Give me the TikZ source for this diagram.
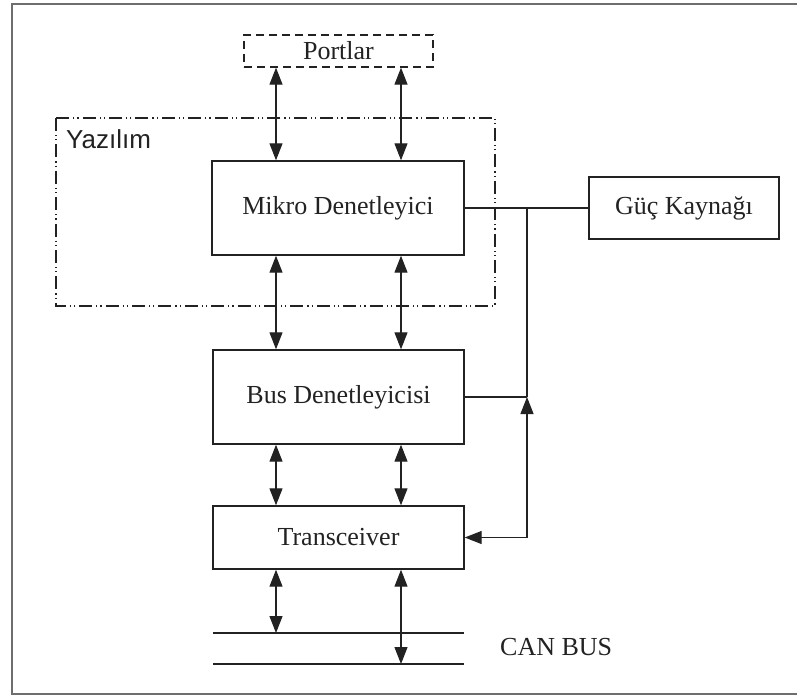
\documentclass[tikz,border=0pt]{standalone}
\usepackage{fontspec}
\setmainfont{Liberation Serif}
\newfontfamily\labelsans{Liberation Sans}
\usetikzlibrary{arrows.meta}
\definecolor{ink}{HTML}{222222}
\definecolor{framegray}{HTML}{6E6E6E}
\tikzset{
  blockbox/.style={draw=ink, line width=1.4pt, rectangle, inner sep=0pt,
    font=\fontsize{26}{30}\selectfont, text=ink},
  portbox/.style={blockbox, dash pattern=on 8pt off 5pt, line width=1.3pt},
  groupbox/.style={draw=ink, line width=1.3pt,
    dash pattern=on 13pt off 4pt on 1.2pt off 3pt on 1.2pt off 4pt},
  wire/.style={draw=ink, line width=1.2pt},
  tip/.style={Triangle[length=17pt,width=13pt]},
  biarrow/.style={wire, {Triangle[length=17pt,width=13pt]}-{Triangle[length=17pt,width=13pt]}},
  busline/.style={draw=ink, line width=2pt},
  plaintext/.style={inner sep=0pt, font=\fontsize{26}{30}\selectfont, text=ink}
}
\begin{document}
\begin{tikzpicture}[x=1pt,y=-1pt]
\useasboundingbox (0,0) rectangle (797,697);
% outer frame (open on the right)
\draw[framegray, line width=2.5pt] (800,4) -- (12,4) -- (12,694) -- (800,694);

% software group
\draw[groupbox] (56,118) rectangle (495,306);
\node[plaintext, anchor=base west, font=\labelsans\fontsize{26}{30}\selectfont] (yazilim) at (66,148) {Yazılım};

% blocks
\node[portbox, minimum width=189pt, minimum height=32pt] (portlar) at (338.5,51) {Portlar};
\node[blockbox, minimum width=252pt, minimum height=94pt] (mikro) at (338,208) {Mikro Denetleyici};
\node[blockbox, minimum width=251pt, minimum height=94pt] (bus) at (338.5,397) {Bus Denetleyicisi};
\node[blockbox, minimum width=251pt, minimum height=63pt] (trans) at (338.5,537.5) {Transceiver};
\node[blockbox, minimum width=190pt, minimum height=62pt] (guc) at (684,208) {Güç Kaynağı};

% vertical channel positions
\coordinate (cl) at (276,0);
\coordinate (cr) at (401,0);

% bidirectional links between blocks
\draw[biarrow] (portlar.south -| cl) -- (mikro.north -| cl);
\draw[biarrow] (portlar.south -| cr) -- (mikro.north -| cr);
\draw[biarrow] (mikro.south -| cl) -- (bus.north -| cl);
\draw[biarrow] (mikro.south -| cr) -- (bus.north -| cr);
\draw[biarrow] (bus.south -| cl) -- (trans.north -| cl);
\draw[biarrow] (bus.south -| cr) -- (trans.north -| cr);

% CAN bus lines
\coordinate (canAw) at (213,633);
\coordinate (canAe) at (464,633);
\coordinate (canBw) at (213,664);
\coordinate (canBe) at (464,664);
\draw[busline] (canAw) -- (canAe);
\draw[busline] (canBw) -- (canBe);
\node[plaintext, anchor=base west] (canbus) at (500,655) {CAN BUS};

\draw[biarrow] (trans.south -| cl) -- (canAw -| cl);
\draw[biarrow] (trans.south -| cr) -- (canBw -| cr);

% power distribution
\coordinate (ja) at (527,208);
\coordinate (jb) at (527,397);
\coordinate (jc) at (527,537.5);
\draw[wire] (mikro.east) -- (guc.west);
\draw[wire] (ja) -- (jb);
\draw[wire] (bus.east) -- (jb);
\draw[biarrow] (jb) -- (jc) -- (trans.east);
\end{tikzpicture}
\end{document}
